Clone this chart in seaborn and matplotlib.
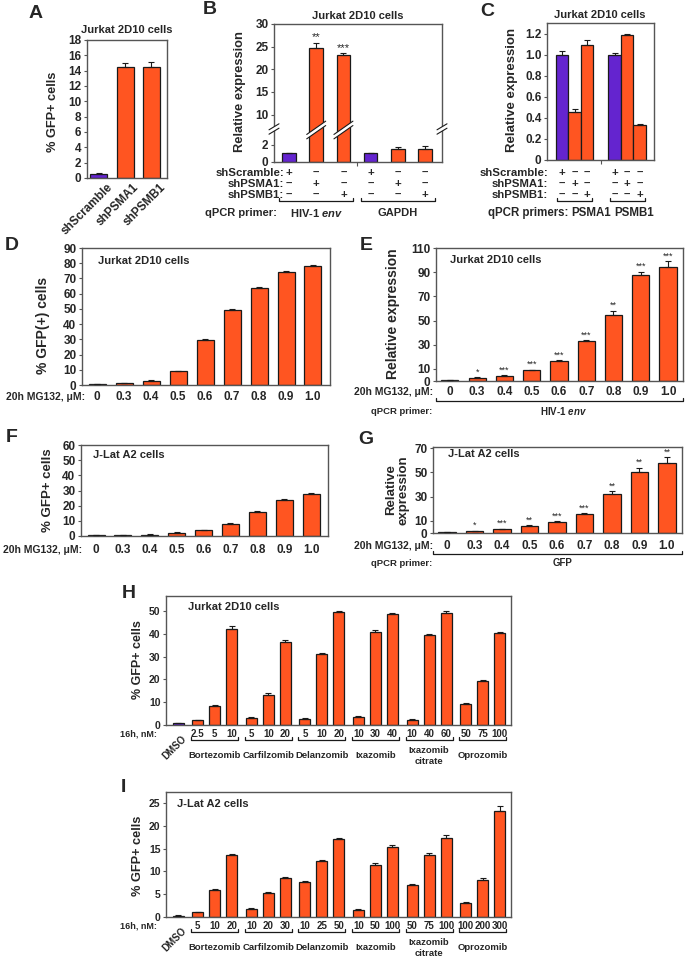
import numpy as np
import pandas as pd
import matplotlib
matplotlib.use('Agg')
import matplotlib.pyplot as plt
import seaborn as sns
from matplotlib.transforms import blended_transform_factory as btf
from matplotlib.patches import Polygon

sns.set_style('ticks')
plt.rcParams['font.family'] = ['Liberation Sans', 'DejaVu Sans']
plt.rcParams['font.weight'] = 'bold'
plt.rcParams['mathtext.fontset'] = 'custom'
plt.rcParams['mathtext.it'] = 'Liberation Sans:italic:bold'
plt.rcParams['mathtext.rm'] = 'Liberation Sans:bold'

W, H = 686, 959
ORANGE = '#FF5521'
PURPLE = '#6424CF'
SPINE = '#555555'
EDGE = '#1a1a1a'

# ---------------- data ----------------
a_labels = ['shScramble', 'shPSMA1', 'shPSMB1']
a_vals = [0.5, 14.5, 14.5]
a_errs = [0.1, 0.5, 0.6]
a_cols = ['p', 'o', 'o']

b_vals = [1.0, 24.7, 23.2, 1.0, 1.45, 1.45]
b_errs = [0.08, 1.2, 0.3, 0.08, 0.3, 0.35]
b_cols = ['p', 'o', 'o', 'p', 'o', 'o']
b_stars = ['', '**', '***', '', '', '']
sh_rows = ['shScramble:', 'shPSMA1:', 'shPSMB1:']
sh_signs = [['+', '–', '–', '+', '–', '–'],
            ['–', '+', '–', '–', '+', '–'],
            ['–', '–', '+', '–', '–', '+']]
b_groups = ['HIV-1 $env$', 'GAPDH']

c_vals = [1.0, 0.46, 1.09, 1.0, 1.19, 0.33]
c_errs = [0.03, 0.025, 0.05, 0.02, 0.01, 0.015]
c_cols = ['p', 'o', 'o', 'p', 'o', 'o']
c_groups = ['PSMA1', 'PSMB1']

mg_doses = ['0', '0.3', '0.4', '0.5', '0.6', '0.7', '0.8', '0.9', '1.0']
mg_cols = ['p'] + ['o'] * 8
d_vals = [0.5, 1.2, 2.8, 9.0, 29.5, 49.2, 63.5, 74.5, 78.0]
d_errs = [0.3, 0.3, 0.4, 0.5, 0.7, 0.6, 0.6, 0.7, 0.6]
e_vals = [0.8, 2.5, 4.2, 9.0, 16.5, 33.0, 55.0, 87.5, 94.5]
e_errs = [0.3, 0.8, 0.5, 0.5, 0.5, 0.8, 3.0, 3.0, 4.5]
e_stars = ['', '*', '***', '***', '***', '***', '**', '***', '***']
f_vals = [0.5, 0.5, 0.8, 2.0, 3.7, 8.0, 16.0, 24.0, 28.0]
f_errs = [0.3, 0.3, 0.3, 0.4, 0.4, 0.4, 0.7, 0.5, 0.6]
g_vals = [0.8, 1.5, 3.0, 5.5, 9.0, 15.5, 32.0, 50.0, 57.5]
g_errs = [0.2, 0.5, 0.5, 0.7, 0.7, 1.0, 2.5, 4.0, 5.0]
g_stars = ['', '*', '***', '**', '***', '***', '**', '**', '**']

drugs = ['Bortezomib', 'Carfilzomib', 'Delanzomib', 'Ixazomib', 'Ixazomib\ncitrate', 'Oprozomib']
h_doses = ['DMSO', '2.5', '5', '10', '5', '10', '20', '5', '10', '20',
           '10', '30', '40', '10', '40', '60', '50', '75', '100']
h_vals = [0.8, 2.0, 8.3, 42.3, 3.0, 13.3, 36.7, 2.7, 31.1, 49.5,
          3.7, 41.0, 49.0, 2.4, 39.6, 49.3, 9.1, 19.5, 40.5]
h_errs = [0.2, 0.3, 0.4, 1.0, 0.5, 0.7, 0.8, 0.3, 0.7, 0.4,
          0.3, 0.9, 0.4, 0.4, 0.4, 1.0, 0.5, 0.4, 0.5]
i_doses = ['DMSO', '5', '10', '20', '10', '20', '30', '10', '25', '50',
           '10', '50', '100', '50', '75', '100', '100', '200', '300']
i_vals = [0.3, 1.0, 5.9, 13.5, 1.7, 5.2, 8.6, 7.6, 12.2, 17.1,
          1.6, 11.5, 15.4, 7.1, 13.6, 17.4, 3.0, 8.2, 23.2]
i_errs = [0.1, 0.15, 0.3, 0.4, 0.2, 0.3, 0.2, 0.3, 0.2, 0.2,
          0.2, 0.4, 0.3, 0.1, 0.4, 0.5, 0.2, 0.4, 1.1]
hi_cols = ['p'] + ['o'] * 18

# ---------------- helpers ----------------
fig = plt.figure(figsize=(W / 100, H / 100), dpi=100)


def mkax(l, t, r, b):
    return fig.add_axes([l / W, 1 - b / H, (r - l) / W, (b - t) / H])


def bars(ax, pos, vals, errs, cols, width, stars=None, sfs=6.5):
    df = pd.DataFrame({'x': pos, 'y': vals, 'c': cols})
    sns.barplot(data=df, x='x', y='y', hue='c', hue_order=['p', 'o'],
                palette={'p': PURPLE, 'o': ORANGE}, native_scale=True,
                width=width, dodge=False, errorbar=None, edgecolor=EDGE,
                saturation=1, linewidth=0.9, legend=False, ax=ax, zorder=2)
    ax.errorbar(pos, vals, yerr=[np.zeros(len(vals)), errs], fmt='none',
                ecolor=EDGE, elinewidth=0.8, capsize=2.3, capthick=0.8, zorder=3)
    if stars:
        for x, v, e, s in zip(pos, vals, errs, stars):
            if s:
                ax.annotate(s, (x, v + e), xytext=(0, 0.5), textcoords='offset points',
                            ha='center', va='bottom', fontsize=sfs, fontweight='normal')


def style(ax, ylim, yticks, xlim, fs=8.5):
    ax.set_ylim(*ylim)
    ax.set_yticks(yticks)
    ax.set_xlim(*xlim)
    ax.set_xticks([])
    ax.set_xlabel('')
    ax.set_ylabel('')
    ax.set_facecolor('white')
    for s in ax.spines.values():
        s.set_visible(True)
        s.set_color(SPINE)
        s.set_linewidth(1.0)
    ax.tick_params(axis='y', length=2.5, width=0.8, labelsize=fs, pad=1.5, color=SPINE)
    ax.tick_params(axis='x', length=3, width=0.8, color=SPINE)


ov = None


def make_overlay():
    o = fig.add_axes([0, 0, 1, 1], zorder=10)
    o.set_xlim(0, W)
    o.set_ylim(H, 0)
    o.axis('off')
    o.patch.set_alpha(0)
    return o


def T(x, y, s, **kw):
    kw.setdefault('fontsize', 8)
    kw.setdefault('ha', 'center')
    kw.setdefault('va', 'center')
    ov.text(x, y, s, **kw)


def bracket(ax, x0, x1, y, h=3):
    tr = btf(ax.transData, ov.transData)
    ov.plot([x0, x0, x1, x1], [y - h, y, y, y - h], color=EDGE, lw=0.9,
            transform=tr, clip_on=False)


def xlabels(ax, pos, labels, y, fs=8.5):
    tr = btf(ax.transData, ov.transData)
    for x, s in zip(pos, labels):
        ov.text(x, y, s, transform=tr, ha='center', va='center', fontsize=fs)


def brk(xc, yc, hw, s, g=2.2):
    pts = [(xc - hw, yc + hw * s - g), (xc + hw, yc - hw * s - g),
           (xc + hw, yc - hw * s + g), (xc - hw, yc + hw * s + g)]
    ov.add_patch(Polygon(pts, closed=True, facecolor='white', edgecolor='none', zorder=5))
    for d in (-g, g):
        ov.plot([xc - hw, xc + hw], [yc + hw * s + d, yc - hw * s + d],
                color=EDGE, lw=0.8, zorder=6)


# ---------------- axes ----------------
axA = mkax(87, 40, 167, 178)
pA = list(range(3))
bars(axA, pA, a_vals, a_errs, a_cols, 0.65)
style(axA, (0, 18), range(0, 19, 2), (-0.45, 2.6))

bl, br = 274, 442
axBt = mkax(bl, 24, br, 129)
axBb = mkax(bl, 129, br, 162)
pB = list(range(6))
bxlim = (-0.55, 5.62)
bars(axBt, pB, b_vals, b_errs, b_cols, 0.5, b_stars, sfs=8)
bars(axBb, pB, b_vals, b_errs, b_cols, 0.5)
style(axBt, (6.8, 30), [10, 15, 20, 25, 30], bxlim)
style(axBb, (0, 3.8), [0, 2], bxlim)
axBt.spines['bottom'].set_visible(False)
axBb.spines['top'].set_visible(False)
axBb.set_xticks([2.5])
axBb.set_xticklabels([''])

axC = mkax(547, 23, 654, 160)
pC = [0, 1, 2, 4.2, 5.2, 6.2]
bars(axC, pC, c_vals, c_errs, c_cols, 1.0)
style(axC, (0, 1.3), [0, 0.2, 0.4, 0.6, 0.8, 1.0, 1.2], (-1.2, 7.36))
axC.set_yticklabels(['0', '0.2', '0.4', '0.6', '0.8', '1.0', '1.2'])
axC.set_xticks([3.1])
axC.set_xticklabels([''])

p9 = list(range(9))
axD = mkax(82, 248, 330, 385)
bars(axD, p9, d_vals, d_errs, mg_cols, 0.63)
style(axD, (0, 90), range(0, 91, 10), (-0.56, 8.63))

axE = mkax(436, 248, 683, 381)
bars(axE, p9, e_vals, e_errs, mg_cols, 0.63, e_stars)
style(axE, (0, 110), [0, 10, 30, 50, 70, 90, 110], (-0.51, 8.55))

axF = mkax(81, 445, 328, 536)
bars(axF, p9, f_vals, f_errs, mg_cols, 0.63)
style(axF, (0, 60), range(0, 61, 10), (-0.56, 8.63))

axG = mkax(433, 447, 682, 533)
bars(axG, p9, g_vals, g_errs, mg_cols, 0.63, g_stars)
style(axG, (0, 71), [0, 10, 30, 50, 70], (-0.51, 8.55))

pH = [0.0] + [1.15 + 3.15 * g + j for g in range(6) for j in range(3)]
axH = mkax(166, 596, 511, 725)
bars(axH, pH, h_vals, h_errs, hi_cols, 0.65)
style(axH, (0, 56.7), range(0, 51, 10), (-0.72, 19.57), fs=7.5)

axI = mkax(166, 792, 511, 917)
bars(axI, pH, i_vals, i_errs, hi_cols, 0.65)
style(axI, (0, 27.4), range(0, 26, 5), (-0.72, 19.57), fs=7.5)

ov = make_overlay()

# ---------------- panel letters ----------------
for s, x, y in [('A', 36, 13), ('B', 210, 9), ('C', 487, 12), ('D', 12, 246),
                ('E', 366, 246), ('F', 12, 437), ('G', 366, 439), ('H', 129, 594),
                ('I', 123, 787)]:
    T(x, y, s, fontsize=14)

# ---------------- titles / inner texts ----------------
T(127, 30, 'Jurkat 2D10 cells')
T(358, 16, 'Jurkat 2D10 cells')
T(600, 15, 'Jurkat 2D10 cells')
T(98, 261, 'Jurkat 2D10 cells', ha='left')
T(450, 260, 'Jurkat 2D10 cells', ha='left')
T(93, 455, 'J-Lat A2 cells', ha='left')
T(448, 454, 'J-Lat A2 cells', ha='left')
T(188, 607, 'Jurkat 2D10 cells', ha='left')
T(177, 804, 'J-Lat A2 cells', ha='left')

# ---------------- y labels ----------------
for s, x, y, fs in [('% GFP+ cells', 53, 112, 9.2), ('Relative expression', 240, 92, 9.3),
                    ('Relative expression', 512, 90, 9.5), ('% GFP(+) cells', 43, 325, 10),
                    ('Relative expression', 393, 314, 10), ('% GFP+ cells', 48, 490, 9.5),
                    ('Relative\nexpression', 397, 490, 9.5), ('% GFP+ cells', 138, 660, 9),
                    ('% GFP+ cells', 138, 856, 9.2)]:
    T(x, y, s, fontsize=fs, rotation=90, linespacing=1.0)

# ---------------- panel A x labels ----------------
trA = btf(axA.transData, ov.transData)
for x, s in zip(pA, a_labels):
    ov.text(x + 0.3, 181, s, transform=trA, rotation=45, rotation_mode='anchor',
            ha='right', va='top', fontsize=8.5)

# ---------------- panel B table ----------------
trB = btf(axBb.transData, ov.transData)
for r, (lab, signs) in enumerate(zip(sh_rows, sh_signs)):
    y = 173 + 11 * r
    T(284, y, lab, ha='right', fontsize=8.2)
    for x, s in zip(pB, signs):
        ov.text(x, y, s, transform=trB, ha='center', va='center', fontsize=8.2)
bracket(axBb, -0.35, 2.35, 201)
bracket(axBb, 2.65, 5.35, 201)
T(277, 213, 'qPCR primer:', ha='right')
ov.text(1, 213, b_groups[0], transform=trB, ha='center', va='center', fontsize=8)
ov.text(4, 213, b_groups[1], transform=trB, ha='center', va='center', fontsize=8)


def bx(x):
    return bl + (x - bxlim[0]) / (bxlim[1] - bxlim[0]) * (br - bl)


brk(bl, 129, 5, 0.6)
brk(br, 129, 5, 0.6)
brk(bx(1), 130, 9.5, 0.7)
brk(bx(2), 130, 9.5, 0.7)

# ---------------- panel C table ----------------
trC = btf(axC.transData, ov.transData)
for r, (lab, signs) in enumerate(zip(sh_rows, sh_signs)):
    y = 173 + 11 * r
    T(548, y, lab, ha='right', fontsize=8.2)
    for x, s in zip(pC, signs):
        ov.text(x, y, s, transform=trC, ha='center', va='center', fontsize=8.2)
bracket(axC, -0.4, 2.4, 201)
bracket(axC, 3.8, 6.6, 201)
T(568, 213, 'qPCR primers:', ha='right', fontsize=8.3)
T(591, 213, c_groups[0], fontsize=8.3)
T(634, 213, c_groups[1], fontsize=8.3)

# ---------------- D-G x labels ----------------
xlabels(axD, p9, mg_doses, 397)
T(85, 397, '20h MG132, μM:', ha='right', fontsize=7.5)
xlabels(axE, p9, mg_doses, 392)
T(433, 392, '20h MG132, μM:', ha='right', fontsize=7.5)
ov.plot([436, 436, 683, 683], [398, 401, 401, 398], color=EDGE, lw=0.9)
T(432, 411, 'qPCR primer:', ha='right', fontsize=6.8)
T(563, 411, 'HIV-1 $env$', fontsize=7)

xlabels(axF, p9, mg_doses, 550)
T(82, 550, '20h MG132, μM:', ha='right', fontsize=7.5)
xlabels(axG, p9, mg_doses, 546)
T(433, 546, '20h MG132, μM:', ha='right', fontsize=7.5)
ov.plot([433, 433, 682, 682], [551, 554, 554, 551], color=EDGE, lw=0.9)
T(432, 563, 'qPCR primer:', ha='right', fontsize=6.8)
T(563, 563, 'GFP', fontsize=7)

# ---------------- H / I labels ----------------
for ax, doses, yl, yb, yd in [(axH, h_doses, 734, 740, 756), (axI, i_doses, 926, 932, 948)]:
    tr = btf(ax.transData, ov.transData)
    xlabels(ax, pH[1:], doses[1:], yl, fs=7)
    ov.text(pH[0] + 0.4, yl + 3, doses[0], transform=tr, rotation=45,
            rotation_mode='anchor', ha='right', va='center', fontsize=7)
    T(157, yl, '16h, nM:', ha='right', fontsize=6.5)
    for g, name in enumerate(drugs):
        x0 = pH[1 + 3 * g]
        x1 = pH[3 + 3 * g]
        bracket(ax, x0 - 0.38, x1 + 0.38, yb)
        ov.text((x0 + x1) / 2, yd, name, transform=tr, ha='center', va='center',
                fontsize=6.8, linespacing=1.2)

fig.savefig('out.png', dpi=100, facecolor='white')
